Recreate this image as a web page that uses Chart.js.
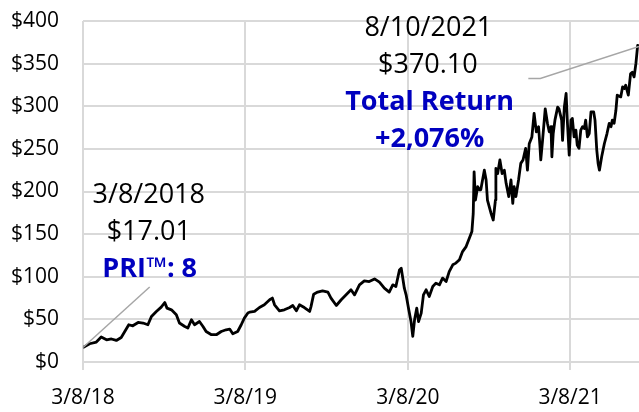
<!DOCTYPE html>
<html>
<head>
<meta charset="utf-8">
<script src="https://cdn.jsdelivr.net/npm/chart.js@4/dist/chart.umd.min.js"></script>
<style>
  html, body { margin: 0; padding: 0; background: #ffffff; }
  #wrap { width: 639px; height: 412px; position: relative; }
</style>
</head>
<body>
<div id="wrap"><canvas id="c" width="639" height="412"></canvas></div>
<script>
// Days since 3/8/2018
const days = [0,15,30,41,53,64,75,86,94,103,112,124,135,146,154,165,176,184,189,199,210,217,229,236,244,251,262,270,277,289,300,311,322,330,337,348,356,363,371,375,386,397,408,420,426,431,442,453,465,472,480,487,498,510,513,519,528,539,551,558,570,581,592,603,611,622,633,644,656,667,678,689,697,704,712,716,719,723,727,733,738,742,746,751,755,761,766,772,779,787,794,802,809,817,824,832,839,847,854,862,869,875,878,880,883,888,892,895,903,907,910,918,923,928,929,933,938,943,948,952,958,963,967,970,974,980,985,990,996,1000,1004,1010,1015,1020,1025,1028,1030,1034,1040,1045,1049,1053,1055,1058,1062,1068,1071,1077,1079,1083,1087,1090,1094,1098,1101,1105,1109,1112,1116,1120,1124,1128,1131,1135,1139,1143,1149,1152,1156,1159,1162,1167,1173,1179,1184,1188,1191,1195,1199,1202,1210,1214,1218,1221,1227,1232,1236,1240,1244,1248,1251];
const prices = [17.01,21.4,23.4,29.3,26,27,25.3,28.8,35.8,43.7,42.5,46.4,45.7,43.7,53.4,59.3,64.4,69.8,63.2,61.2,55.4,45.7,41.7,39.8,49.5,43.7,47.5,41.7,35.8,32,32,35.8,37.8,38.6,33.1,35.8,43.7,51.5,57.4,58.5,59.3,63.9,67.1,73,75,67.1,60,61.2,63.9,66.3,60,67.1,63.9,59.3,65,79.6,82,83.5,82,75,66.3,73,78.8,84.7,78.8,90.5,95.2,94.4,97.5,93.7,86.6,82,90.5,88.5,108,110,100,86.6,78.8,61.2,47.5,30,49.5,63.2,47.5,57.4,78.8,84.7,76.8,88.5,92.5,90.5,98.4,94.4,106,114,116,120,129.5,135.4,145,153,174,223,190,205.6,202,202,225,213.5,190,174.5,166.6,190,227,221,237,221,225,209.6,194,213.5,186,205.6,194,213.5,233,237,250.6,225,256,264,291.5,270,276,254.4,237,260,297,280,270,276,240.7,268,284,299,297,283.7,260,299,315,280,242.7,283.7,285.7,264,272,254.4,250.6,272,276,274,283.7,264,268,293.4,293.4,283.7,248.6,233,225,240.7,256,268,280,276,283.7,280,295,313,311,322.7,320.8,324.7,313,338,340,334.4,350,371.5,370.1];
const tickDays = [0, 365, 731, 1096];
const tickLabels = ['3/8/18', '3/8/19', '3/8/20', '3/8/21'];
const yTicks = [0, 50, 100, 150, 200, 250, 300, 350, 400];

// Annotation texts (anchored in data units, at the text baseline)
const noteTexts = [
  { text: '8/10/2021', x: 777, y: 382.4, bold: false },
  { text: '$370.10', x: 776, y: 339.4, bold: false },
  { text: 'Total Return', x: 780, y: 295.6, bold: true },
  { text: '+2,076%', x: 780, y: 252.6, bold: true },
  { text: '3/8/2018', x: 148, y: 186.2, bold: false },
  { text: '$17.01', x: 148, y: 143.1, bold: false },
  { text: 'PRI\u2122: 8', x: 150, y: 100, bold: true }
];
// Leader lines (data units)
const leaderLeft = [[0, 17.01], [150, 88]];
const leaderRight = [[1002, 332.6], [1029, 332.6], [1251, 370.1]];

const FONT = "'Open Sans', sans-serif";

const notesPlugin = {
  id: 'notes',
  afterDatasetsDraw(chart) {
    const ctx = chart.ctx;
    const xs = chart.scales.x, ys = chart.scales.y;
    ctx.save();
    ctx.strokeStyle = '#A6A6A6';
    ctx.lineWidth = 1.5;
    [leaderLeft, leaderRight].forEach(pts => {
      ctx.beginPath();
      pts.forEach((p, i) => {
        const px = xs.getPixelForValue(p[0]), py = ys.getPixelForValue(p[1]);
        if (i === 0) ctx.moveTo(px, py); else ctx.lineTo(px, py);
      });
      ctx.stroke();
    });
    ctx.textAlign = 'center';
    ctx.textBaseline = 'alphabetic';
    noteTexts.forEach(n => {
      ctx.font = (n.bold ? 'bold ' : '') + '27px ' + FONT;
      ctx.fillStyle = n.bold ? '#0000BF' : '#000000';
      ctx.fillText(n.text, xs.getPixelForValue(n.x), ys.getPixelForValue(n.y));
    });
    ctx.restore();
  }
};

new Chart(document.getElementById('c'), {
  type: 'line',
  data: {
    datasets: [{
      data: days.map((d, i) => ({ x: d, y: prices[i] })),
      borderColor: '#000000',
      borderWidth: 2.8,
      pointRadius: 0,
      tension: 0,
      borderJoinStyle: 'round',
      fill: false
    }]
  },
  options: {
    responsive: false,
    animation: false,
    devicePixelRatio: 1,
    layout: { padding: { top: 21, right: 0, left: 0, bottom: 0 } },
    plugins: { legend: { display: false }, tooltip: { enabled: false } },
    scales: {
      x: {
        type: 'linear',
        min: 0,
        max: 1251,
        afterBuildTicks(scale) { scale.ticks = tickDays.map(v => ({ value: v })); },
        afterFit(scale) { scale.height = 50; scale.paddingLeft = 0; scale.paddingRight = 0; },
        grid: { color: '#D9D9D9', lineWidth: 2, drawTicks: true, tickLength: 8, tickColor: '#D9D9D9' },
        border: { display: false },
        ticks: {
          autoSkip: false,
          maxRotation: 0,
          padding: 15,
          color: '#000000',
          font: { family: FONT, size: 21 },
          callback(value) { const i = tickDays.indexOf(value); return i >= 0 ? tickLabels[i] : ''; }
        }
      },
      y: {
        min: 0,
        max: 400,
        afterBuildTicks(scale) { scale.ticks = yTicks.map(v => ({ value: v })); },
        afterFit(scale) { scale.width = 83; scale.paddingTop = 0; scale.paddingBottom = 0; },
        grid: { color: '#D9D9D9', lineWidth: 2, drawTicks: false },
        border: { display: false },
        ticks: {
          padding: 24,
          color: '#000000',
          font: { family: FONT, size: 21 },
          callback(value) { return '$' + value; }
        }
      }
    }
  },
  plugins: [notesPlugin]
});
</script>
</body>
</html>
